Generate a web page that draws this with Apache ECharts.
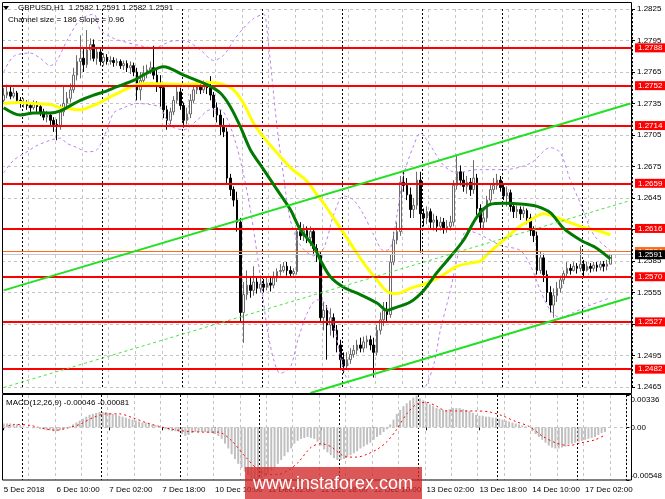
<!DOCTYPE html>
<html><head><meta charset="utf-8">
<script src="https://cdn.jsdelivr.net/npm/echarts/dist/echarts.min.js"></script>
<style>html,body{margin:0;padding:0;background:#fff}#c{width:665px;height:499px}</style>
</head><body><div id="c"></div>
<script>
// ---------- DATA ----------
const tradingDays = [['5 Dec',18,23],['6 Dec',0,23],['7 Dec',0,23],['10 Dec',0,23],['11 Dec',0,23],['12 Dec',0,23],['13 Dec',0,23],['14 Dec',0,23],['17 Dec',0,8]];
const shiftSlots = 6;
const tickLabels = [[0,'5 Dec 2018'],[16,'6 Dec 10:00'],[32,'7 Dec 02:00'],[48,'7 Dec 18:00'],[64,'10 Dec 10:00'],[80,'11 Dec 02:00'],[96,'11 Dec 18:00'],[112,'12 Dec 10:00'],[128,'13 Dec 02:00'],[144,'13 Dec 18:00'],[160,'14 Dec 10:00'],[176,'17 Dec 02:00']];

const opens = [1.2738,1.2743,1.2746,1.2742,1.2745,1.2738,1.2735,1.2736,1.2733,1.2731,
1.2735,1.2732,1.2727,1.2722,1.2724,1.2719,1.2715,1.2713,1.2727,1.2735,
1.2740,1.2748,1.2762,1.2775,1.2778,1.2772,1.2786,1.2791,1.2778,1.2784,
1.2775,1.2779,1.2775,1.2776,1.2774,1.2775,1.2771,1.2773,1.2769,1.2771,
1.2765,1.2748,1.2757,1.2764,1.2767,1.2769,1.2762,1.2753,1.2750,1.2729,
1.2719,1.2727,1.2738,1.2746,1.2733,1.2719,1.2725,1.2738,1.2748,1.2752,
1.2748,1.2752,1.2750,1.2743,1.2731,1.2724,1.2714,1.2708,1.2664,1.2653,
1.2643,1.2622,1.2536,1.2553,1.2562,1.2557,1.2565,1.2559,1.2563,1.2560,
1.2564,1.2562,1.2569,1.2575,1.2576,1.2580,1.2576,1.2573,1.2575,1.2613,
1.2609,1.2614,1.2607,1.2613,1.2597,1.2590,1.2531,1.2538,1.2524,1.2531,
1.2519,1.2505,1.2491,1.2485,1.2491,1.2496,1.2500,1.2505,1.2502,1.2508,
1.2510,1.2505,1.2498,1.2519,1.2529,1.2538,1.2534,1.2584,1.2605,1.2613,
1.2660,1.2657,1.2648,1.2634,1.2638,1.2662,1.2630,1.2626,1.2632,1.2622,
1.2624,1.2618,1.2622,1.2616,1.2618,1.2622,1.2657,1.2670,1.2662,1.2656,
1.2660,1.2653,1.2664,1.2635,1.2622,1.2626,1.2643,1.2653,1.2657,1.2662,
1.2655,1.2647,1.2650,1.2637,1.2632,1.2634,1.2630,1.2633,1.2626,1.2614,
1.2609,1.2576,1.2588,1.2572,1.2555,1.2543,1.2552,1.2559,1.2567,1.2573,
1.2578,1.2576,1.2580,1.2578,1.2582,1.2576,1.2580,1.2578,1.2581,1.2579,
1.2582,1.2580,1.2582];
const closes = [1.2743,1.2746,1.2742,1.2745,1.2738,1.2735,1.2736,1.2733,1.2731,1.2735,
1.2732,1.2727,1.2722,1.2724,1.2719,1.2715,1.2713,1.2727,1.2735,1.2740,
1.2748,1.2762,1.2775,1.2778,1.2772,1.2786,1.2791,1.2778,1.2784,1.2775,
1.2779,1.2775,1.2776,1.2774,1.2775,1.2771,1.2773,1.2769,1.2771,1.2765,
1.2748,1.2757,1.2764,1.2767,1.2769,1.2762,1.2753,1.2750,1.2729,1.2719,
1.2727,1.2738,1.2746,1.2733,1.2719,1.2725,1.2738,1.2748,1.2752,1.2748,
1.2752,1.2750,1.2743,1.2731,1.2724,1.2714,1.2708,1.2664,1.2653,1.2643,
1.2622,1.2536,1.2553,1.2562,1.2557,1.2565,1.2559,1.2563,1.2560,1.2564,
1.2562,1.2569,1.2575,1.2576,1.2580,1.2576,1.2573,1.2575,1.2613,1.2609,
1.2614,1.2607,1.2613,1.2597,1.2590,1.2531,1.2538,1.2524,1.2531,1.2519,
1.2505,1.2491,1.2485,1.2491,1.2496,1.2500,1.2505,1.2502,1.2508,1.2510,
1.2505,1.2498,1.2519,1.2529,1.2538,1.2534,1.2584,1.2605,1.2613,1.2660,
1.2657,1.2648,1.2634,1.2638,1.2662,1.2630,1.2626,1.2632,1.2622,1.2624,
1.2618,1.2622,1.2616,1.2618,1.2622,1.2657,1.2670,1.2662,1.2656,1.2660,
1.2653,1.2664,1.2635,1.2622,1.2626,1.2643,1.2653,1.2657,1.2662,1.2655,
1.2647,1.2650,1.2637,1.2632,1.2634,1.2630,1.2633,1.2626,1.2614,1.2609,
1.2576,1.2588,1.2572,1.2555,1.2543,1.2552,1.2559,1.2567,1.2573,1.2578,
1.2576,1.2580,1.2578,1.2582,1.2576,1.2580,1.2578,1.2581,1.2579,1.2582,
1.2580,1.2582,1.2591];
const highs = [1.2750,1.2753,1.2752,1.2750,1.2747,1.2741,1.2740,1.2738,1.2736,1.2738,
1.2737,1.2735,1.2730,1.2728,1.2727,1.2722,1.2720,1.2734,1.2752,1.2746,
1.2754,1.2769,1.2781,1.2800,1.2788,1.2805,1.2797,1.2796,1.2788,1.2788,
1.2783,1.2782,1.2780,1.2779,1.2778,1.2777,1.2776,1.2776,1.2775,1.2774,
1.2769,1.2765,1.2771,1.2772,1.2775,1.2790,1.2767,1.2762,1.2754,1.2733,
1.2731,1.2742,1.2752,1.2750,1.2736,1.2731,1.2744,1.2752,1.2756,1.2755,
1.2757,1.2756,1.2761,1.2746,1.2736,1.2729,1.2721,1.2712,1.2668,1.2656,
1.2651,1.2626,1.2565,1.2576,1.2569,1.2580,1.2569,1.2571,1.2568,1.2570,
1.2569,1.2575,1.2578,1.2582,1.2584,1.2584,1.2580,1.2578,1.2616,1.2622,
1.2620,1.2618,1.2618,1.2616,1.2601,1.2594,1.2546,1.2543,1.2540,1.2535,
1.2524,1.2510,1.2498,1.2498,1.2502,1.2505,1.2510,1.2512,1.2513,1.2514,
1.2514,1.2512,1.2524,1.2536,1.2546,1.2546,1.2591,1.2613,1.2622,1.2666,
1.2670,1.2664,1.2655,1.2645,1.2670,1.2670,1.2635,1.2637,1.2635,1.2630,
1.2628,1.2627,1.2626,1.2624,1.2628,1.2662,1.2686,1.2676,1.2670,1.2666,
1.2664,1.2681,1.2668,1.2639,1.2632,1.2647,1.2658,1.2664,1.2668,1.2666,
1.2658,1.2656,1.2653,1.2641,1.2638,1.2637,1.2637,1.2635,1.2630,1.2618,
1.2613,1.2594,1.2592,1.2576,1.2561,1.2559,1.2565,1.2571,1.2576,1.2584,
1.2582,1.2584,1.2583,1.2599,1.2586,1.2584,1.2583,1.2584,1.2584,1.2585,
1.2585,1.2586,1.2591];
const lows = [1.2736,1.2740,1.2739,1.2740,1.2735,1.2731,1.2731,1.2729,1.2727,1.2729,
1.2727,1.2723,1.2719,1.2717,1.2714,1.2708,1.2700,1.2710,1.2723,1.2729,
1.2736,1.2745,1.2757,1.2759,1.2765,1.2769,1.2776,1.2775,1.2772,1.2771,
1.2771,1.2772,1.2772,1.2770,1.2771,1.2768,1.2767,1.2765,1.2763,1.2761,
1.2738,1.2738,1.2754,1.2759,1.2763,1.2758,1.2746,1.2732,1.2721,1.2710,
1.2715,1.2724,1.2735,1.2729,1.2712,1.2715,1.2721,1.2735,1.2744,1.2744,
1.2745,1.2744,1.2738,1.2722,1.2717,1.2705,1.2703,1.2658,1.2647,1.2637,
1.2613,1.2527,1.2507,1.2548,1.2550,1.2552,1.2554,1.2555,1.2555,1.2557,
1.2556,1.2559,1.2565,1.2571,1.2574,1.2571,1.2569,1.2571,1.2572,1.2605,
1.2604,1.2602,1.2599,1.2592,1.2584,1.2527,1.2519,1.2491,1.2514,1.2512,
1.2498,1.2481,1.2478,1.2481,1.2487,1.2493,1.2496,1.2498,1.2498,1.2502,
1.2500,1.2474,1.2495,1.2515,1.2523,1.2527,1.2531,1.2581,1.2601,1.2609,
1.2651,1.2643,1.2626,1.2626,1.2634,1.2593,1.2618,1.2620,1.2616,1.2614,
1.2613,1.2614,1.2611,1.2612,1.2614,1.2618,1.2653,1.2657,1.2651,1.2649,
1.2647,1.2649,1.2629,1.2616,1.2616,1.2622,1.2638,1.2649,1.2653,1.2651,
1.2643,1.2637,1.2632,1.2626,1.2626,1.2624,1.2626,1.2620,1.2609,1.2603,
1.2572,1.2573,1.2565,1.2546,1.2536,1.2531,1.2546,1.2555,1.2563,1.2569,
1.2572,1.2575,1.2573,1.2575,1.2569,1.2575,1.2574,1.2575,1.2575,1.2576,
1.2575,1.2576,1.2582];

// moving averages: [bar index, price]
const maGreen = [[0,1.2731],[5,1.2724],[9,1.2726],[14,1.2726],[17,1.2728],[20,1.2733],[23,1.2738],[27,1.2743],[30,1.2746],[34,1.2751],[39,1.2757],[43,1.2764],[48,1.2770],[54,1.2762],[61,1.2753],[65,1.2745],[68,1.2732],[71,1.2713],[74,1.2691],[78,1.2672],[82,1.2653],[86,1.2634],[89,1.2615],[93,1.2599],[95,1.2586],[98,1.2570],[102,1.2560],[107,1.2553],[112,1.2545],[115,1.2538],[117,1.2540],[122,1.2546],[126,1.2557],[130,1.2574],[134,1.2589],[138,1.2605],[142,1.2627],[146,1.2639],[150,1.2640],[156,1.2639],[160,1.2637],[164,1.2631],[168,1.2616],[173,1.2605],[178,1.2597],[182,1.2587]];
const maYellow = [[0,1.2735],[5,1.2736],[9,1.2735],[14,1.2734],[17,1.2731],[20,1.2730],[23,1.2729],[26,1.2732],[29,1.2736],[33,1.2743],[37,1.2749],[40,1.2753],[44,1.2754],[54,1.2753],[62,1.2755],[66,1.2753],[69,1.2748],[72,1.2735],[75,1.2716],[78,1.2703],[82,1.2688],[86,1.2674],[91,1.2661],[94,1.2648],[96,1.2640],[100,1.2621],[104,1.2602],[108,1.2583],[112,1.2567],[115,1.2556],[118,1.2554],[122,1.2559],[127,1.2564],[132,1.2572],[136,1.2580],[140,1.2583],[143,1.2585],[146,1.2594],[150,1.2605],[154,1.2616],[158,1.2624],[162,1.2630],[167,1.2625],[173,1.2618],[178,1.2614],[182,1.2610]];
const bandUpper = [[0,1.2765],[3,1.2780],[8,1.2783],[11,1.2778],[14,1.2771],[16,1.2776],[19,1.2795],[23,1.2815],[27,1.2820],[29,1.2805],[33,1.2797],[36,1.2794],[41,1.2790],[45,1.2788],[50,1.2794],[54,1.2795],[59,1.2786],[63,1.2776],[66,1.2781],[69,1.2795],[72,1.2807],[75,1.2816],[78,1.2820],[79,1.2805],[82,1.2713],[84,1.2665],[86,1.2624],[89,1.2600],[93,1.2590],[96,1.2597],[99,1.2629],[102,1.2647],[105,1.2643],[108,1.2629],[111,1.2610],[114,1.2595],[116,1.2597],[118,1.2629],[120,1.2667],[123,1.2695],[125,1.2707],[128,1.2695],[132,1.2676],[136,1.2669],[142,1.2672],[150,1.2672],[158,1.2678],[164,1.2693],[167,1.2688],[170,1.2662],[173,1.2640],[177,1.2610],[182,1.2595]];
const bandLower = [[0,1.2669],[3,1.2681],[7,1.2689],[10,1.2695],[14,1.2700],[17,1.2702],[19,1.2697],[22,1.2693],[25,1.2689],[28,1.2691],[31,1.2710],[33,1.2726],[36,1.2731],[40,1.2735],[44,1.2734],[47,1.2731],[50,1.2714],[54,1.2710],[58,1.2719],[62,1.2729],[65,1.2729],[68,1.2713],[71,1.2681],[74,1.2634],[77,1.2570],[79,1.2522],[81,1.2491],[83,1.2478],[86,1.2484],[88,1.2507],[91,1.2535],[94,1.2548],[96,1.2546],[99,1.2524],[102,1.2481],[105,1.2460],[108,1.2453],[111,1.2462],[114,1.2460],[117,1.2448],[122,1.2448],[126,1.2462],[129,1.2486],[131,1.2519],[134,1.2557],[137,1.2600],[139,1.2614],[143,1.2610],[149,1.2600],[155,1.2595],[158,1.2581],[161,1.2557],[164,1.2538],[167,1.2531],[171,1.2536],[176,1.2543],[182,1.2550]];
// regression channel
const channelUpper = [[0,1.2557],[188,1.2735]];
const channelMiddle = [[0,1.24645],[188,1.26426]];
const channelLower = [[92,1.24593],[188,1.25502]];
// horizontal levels
const levels = [1.2788,1.2752,1.2714,1.2659,1.2616,1.2570,1.2527,1.2482];
const askPrice = 1.2594, bidPrice = 1.2591;
// MACD
const macdHist = [0.0004,0.0004,0.0004,0.0003,0.0003,0.0002,
0.0001,0,0,-0.0001,-0.0001,-0.0002,-0.0002,-0.0003,-0.0003,-0.0004,
-0.0004,-0.0003,-0.0002,-0.0001,
0.0001,0.0003,0.0005,0.0007,
0.0009,0.0011,0.0013,0.0014,0.0015,0.0016,0.0016,0.0016,0.0015,
0.0014,0.0013,0.0012,0.0011,0.0010,0.0009,0.0008,0.0007,0.0006,
0.0005,0.0005,0.0004,0.0003,0.0002,0.0001,
0,-0.0002,-0.0003,-0.0004,-0.0004,-0.0005,
-0.0007,-0.0009,-0.0008,
-0.0006,-0.0005,-0.0005,-0.0005,-0.0005,-0.0006,-0.0006,-0.0007,
-0.0009,-0.0012,-0.0017,-0.0022,-0.0028,-0.0033,
-0.0038,-0.0042,-0.0046,-0.0050,-0.0053,-0.0055,-0.0054,-0.0053,
-0.0051,-0.0048,-0.0045,-0.0042,-0.0038,-0.0034,-0.0030,-0.0026,
-0.0022,-0.0017,-0.0014,-0.0012,-0.0011,-0.0010,-0.0011,-0.0012,
-0.0015,-0.0019,-0.0023,-0.0026,-0.0029,-0.0032,-0.0034,
-0.0034,-0.0033,-0.0031,-0.0029,-0.0027,-0.0025,-0.0022,-0.0020,-0.0018,
-0.0016,-0.0013,-0.0010,-0.0008,-0.0005,-0.0002,
0.0003,0.0008,0.0014,0.0018,0.0022,0.0025,
0.0028,0.0031,0.0033,0.0030,0.0028,0.0026,
0.0024,0.0022,0.0020,0.0019,0.0018,0.0018,
0.0019,0.0020,0.0020,0.0020,0.0019,0.0018,0.0017,0.0015,
0.0013,0.0012,0.0012,0.0011,0.0011,0.0010,0.0010,
0.0009,0.0008,0.0007,0.0006,0.0005,0.0004,
0.0003,0.0002,0.0001,0,
-0.0004,-0.0007,-0.0010,-0.0013,-0.0016,-0.0019,
-0.0021,-0.0022,-0.0022,-0.0021,-0.0020,
-0.0018,-0.0017,-0.0016,-0.0015,-0.0014,-0.0013,
-0.0012,-0.0011,-0.0010,-0.0008,-0.0006,-0.0005];
const macdSignal = [[0,-0.0001],[3,0.0003],[8,0.0002],[13,-0.0002],[16,-0.0003],[19,-0.0001],[23,0.0003],[27,0.0010],[31,0.0014],[35,0.0014],[39,0.0010],[43,0.0005],[47,0.0001],[51,-0.0002],[55,-0.0004],[61,-0.0005],[65,-0.0005],[69,-0.0014],[73,-0.0030],[77,-0.0044],[80,-0.0049],[83,-0.0049],[86,-0.0045],[89,-0.0037],[93,-0.0021],[96,-0.0017],[99,-0.0020],[102,-0.0028],[104,-0.0031],[107,-0.0031],[110,-0.0028],[113,-0.0023],[116,-0.0015],[119,-0.0002],[122,0.0014],[125,0.0024],[128,0.0026],[131,0.0022],[134,0.0017],[137,0.0017],[143,0.0017],[147,0.0016],[151,0.0012],[155,0.0006],[159,0.0001],[163,-0.0009],[167,-0.0016],[171,-0.0019],[175,-0.0016],[179,-0.0013],[182,-0.0008]];
const macdScale = [-0.00548, 0, 0.00336];
const priceTicks = {min:1.2465, max:1.2825, step:0.003};

// ---------- BUILD ----------
const categories = [];
tradingDays.forEach(([d,a,b]) => { for (let h=a; h<=b; h++) categories.push(d+' '+String(h).padStart(2,'0')+':00'); });
for (let k=1; k<=shiftSlots; k++) categories.push('shift'+k);
const labelMap = {}; tickLabels.forEach(([i,t]) => labelMap[i] = t);
const isDayStart = (i) => /\s00:00$/.test(categories[i] || '') && i > 0;
const isGrid = (i) => i % 8 === 0 && i > 0;
const candles = opens.map((o,i) => [o, closes[i], lows[i], highs[i]]);

const F = 'Liberation Sans';
const gridLine = {color:'#c4c4c4', type:[3,3], width:1};
const sepLine = {color:'#000', type:[2,2], width:1};
function xAx(grid, split, extra) {
  return Object.assign({type:'category', gridIndex:grid, data:categories, boundaryGap:true,
    axisLine:{show:false}, axisTick:{show:false}, axisLabel:{show:false},
    splitLine:{show:true, interval:(i)=>split(i), lineStyle: split===isGrid ? gridLine : sepLine}}, extra||{});
}
const levelLabel = {show:true, position:'end', distance:3, formatter:(p)=>Number(p.value).toFixed(4),
  color:'#fff', backgroundColor:'#ff0000', fontSize:8, fontFamily:F, padding:[1,3,0,3]};

const chart = echarts.init(document.getElementById('c'));
chart.setOption({
  animation:false,
  backgroundColor:'#fff',
  grid:[{left:2, right:33, top:9, height:378}, {left:2, right:33, top:395, height:85}],
  xAxis:[
    xAx(0, isGrid), xAx(0, isDayStart),
    xAx(1, isGrid, {axisLabel:{show:true, interval:(i)=>labelMap[i]!==undefined, formatter:(v,i)=>labelMap[i]||'', align:'left', margin:6, fontSize:8, fontFamily:F, color:'#000'},
      axisTick:{show:true, interval:(i)=>labelMap[i]!==undefined, alignWithLabel:true, length:3, lineStyle:{color:'#000'}}}),
    xAx(1, isDayStart)
  ],
  yAxis:[
    {type:'value', gridIndex:0, position:'right', min:priceTicks.min, max:priceTicks.max, interval:priceTicks.step,
     axisLine:{show:false}, axisTick:{show:true, length:3, lineStyle:{color:'#000'}},
     axisLabel:{fontSize:8, fontFamily:F, color:'#000', margin:5, showMinLabel:true, showMaxLabel:true, formatter:(v)=>v.toFixed(4)},
     splitLine:{show:true, lineStyle:gridLine}},
    {type:'value', gridIndex:1, position:'right', min:macdScale[0], max:macdScale[2],
     axisLine:{show:false}, splitLine:{show:false},
     axisTick:{show:true, length:3, customValues:macdScale, lineStyle:{color:'#000'}},
     axisLabel:{customValues:macdScale, showMinLabel:true, showMaxLabel:true, margin:4, fontSize:8, fontFamily:F, color:'#000',
       formatter:(v)=> v>0 ? '{t|'+v.toFixed(5)+'}' : (v<0 ? '{b|'+v.toFixed(5)+'}' : '{m|0.00}'),
       rich:{t:{fontSize:8, fontFamily:F, padding:[10,0,0,0]}, b:{fontSize:8, fontFamily:F, padding:[0,0,8,0]}, m:{fontSize:8, fontFamily:F}}}}
  ],
  series:[
    {type:'candlestick', xAxisIndex:0, yAxisIndex:0, data:candles, barWidth:2, z:2,
     itemStyle:{color:'#ffffff', color0:'#000000', borderColor:'#6a6a6a', borderColor0:'#000000', borderWidth:1}},
    {type:'line', xAxisIndex:0, yAxisIndex:0, data:bandUpper, smooth:0.3, showSymbol:false, z:3,
     lineStyle:{color:'#bf7ff0', width:1, type:[3,3]}},
    {type:'line', xAxisIndex:0, yAxisIndex:0, data:bandLower, smooth:0.3, showSymbol:false, z:3,
     lineStyle:{color:'#bf7ff0', width:1, type:[3,3]}},
    {type:'line', xAxisIndex:0, yAxisIndex:0, data:maYellow, smooth:0.3, showSymbol:false, z:4,
     lineStyle:{color:'#ffff00', width:3}},
    {type:'line', xAxisIndex:0, yAxisIndex:0, data:maGreen, smooth:0.3, showSymbol:false, z:5,
     lineStyle:{color:'#007a00', width:3}},
    {type:'line', xAxisIndex:0, yAxisIndex:0, data:channelUpper, showSymbol:false, clip:false, z:6,
     lineStyle:{color:'#22e022', width:2}},
    {type:'line', xAxisIndex:0, yAxisIndex:0, data:channelMiddle, showSymbol:false, clip:false, z:6,
     lineStyle:{color:'#44e444', width:1, type:[3,3]}},
    {type:'line', xAxisIndex:0, yAxisIndex:0, data:channelLower, showSymbol:false, clip:false, z:6,
     lineStyle:{color:'#22e022', width:2}},
    {type:'line', xAxisIndex:0, yAxisIndex:0, data:[], z:7,
     markLine:{symbol:'none', silent:true, animation:false, precision:4,
       lineStyle:{color:'#ff0000', width:2, type:'solid'}, label:levelLabel,
       data: levels.map(v=>({yAxis:v}))}},
    {type:'line', xAxisIndex:0, yAxisIndex:0, data:[], z:8,
     markLine:{symbol:'none', silent:true, animation:false, precision:4, label:levelLabel,
       data:[
         {yAxis:askPrice, lineStyle:{color:'#ff6a1a', width:1, type:'solid'}, label:{backgroundColor:'#ff6a1a'}},
         {yAxis:bidPrice, lineStyle:{color:'#c8c8c8', width:1, type:'solid'}, label:{backgroundColor:'#000000'}}
       ]}},
    {type:'bar', xAxisIndex:2, yAxisIndex:1, data:macdHist, barWidth:2, z:2,
     itemStyle:{color:'#c0c0c0'},
     markLine:{symbol:'none', silent:true, label:{show:false}, lineStyle:{color:'#c4c4c4', type:[3,3], width:1}, data:[{yAxis:0}]}},
    {type:'line', xAxisIndex:2, yAxisIndex:1, data:macdSignal, smooth:0.3, showSymbol:false, z:3,
     lineStyle:{color:'#ff0000', width:1, type:[2,3]}}
  ],
  graphic:[
    {type:'rect', shape:{x:2.5, y:2.5, width:629, height:391}, style:{fill:'none', stroke:'#000', lineWidth:1}, z:50, silent:true},
    {type:'rect', shape:{x:2.5, y:394.5, width:629, height:85.5}, style:{fill:'none', stroke:'#000', lineWidth:1}, z:50, silent:true},
    {type:'polygon', shape:{points:[[3,6],[9,6],[6,10]]}, style:{fill:'#000'}, z:50, silent:true},
    {type:'text', x:18, y:8, style:{text:'GBPUSD,H1  1.2582 1.2591 1.2582 1.2591', fontSize:8, fontFamily:F, fill:'#000', verticalAlign:'middle'}, z:50, silent:true},
    {type:'text', x:8, y:20, style:{text:'Channel size = 186 Slope = 0.96', fontSize:8, fontFamily:F, fill:'#000', verticalAlign:'middle'}, z:50, silent:true},
    {type:'text', x:6, y:403, style:{text:'MACD(12,26,9) -0.00046 -0.00081', fontSize:8, fontFamily:F, fill:'#000', verticalAlign:'middle'}, z:50, silent:true},
    {type:'rect', shape:{x:245, y:467, width:177, height:32}, style:{fill:'rgba(210,40,40,0.78)'}, z:60, silent:true},
    {type:'text', x:333, y:484, style:{text:'www.instaforex.com', fontSize:18, fontFamily:F, fill:'#fff', align:'center', verticalAlign:'middle'}, z:61, silent:true}
  ]
});
</script></body></html>
